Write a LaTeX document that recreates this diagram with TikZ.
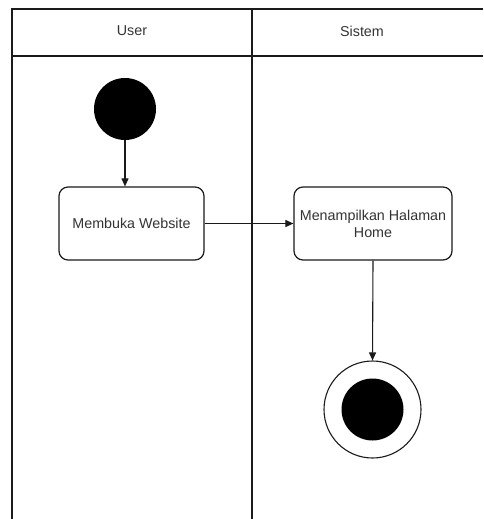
\documentclass[tikz,border=0pt]{standalone}
\usepackage{fontspec}
\setmainfont{Liberation Sans}
\usetikzlibrary{arrows.meta}
\definecolor{inkline}{HTML}{1A1A1A}
\definecolor{inktext}{HTML}{333333}
\tikzset{
  lane/.style={draw=inkline, line width=1.5pt},
  action/.style={draw=inkline, line width=1.2pt, rounded corners=9pt, fill=white,
    text=inktext, font=\fontsize{14.3}{17}\selectfont, align=center, inner sep=0pt},
  title/.style={text=inktext, font=\fontsize{14.3}{17}\selectfont},
  flow/.style={draw=inkline, line width=1.1pt, -{Triangle[length=8pt,width=7pt]}},
}
\begin{document}
\begin{tikzpicture}[x=1pt,y=-1pt]
  \useasboundingbox (0,0) rectangle (483,519);
  % swimlane frame
  \draw[lane] (483,9) -- (12,9) -- (12,519);
  \draw[lane] (12,56) -- (483,56);
  \draw[lane] (252,9) -- (252,519);
  \node[title] (userlane) at (132,31) {User};
  \node[title] (syslane) at (362,31) {Sistem};
  % start node
  \node[circle, fill=black, minimum size=62pt, inner sep=0pt] (start) at (125,109) {};
  % actions
  \node[action, minimum width=145pt, minimum height=73pt] (open) at (131.5,223.5) {Membuka Website};
  \node[action, minimum width=158pt, minimum height=73pt] (home) at (373,223.5) {Menampilkan Halaman\\Home};
  % final node
  \node[circle, draw=inkline, line width=1.1pt, fill=white, minimum size=97pt, inner sep=0pt] (final) at (372.5,409.5) {};
  \node[circle, fill=black, minimum size=62pt, inner sep=0pt] (finaldot) at (final.center) {};
  % control flow
  \draw[flow] (start.south) -- (start.south |- open.north);
  \draw[flow] (open) -- (home);
  \draw[flow] (home.south) -- (final.north);
\end{tikzpicture}
\end{document}
